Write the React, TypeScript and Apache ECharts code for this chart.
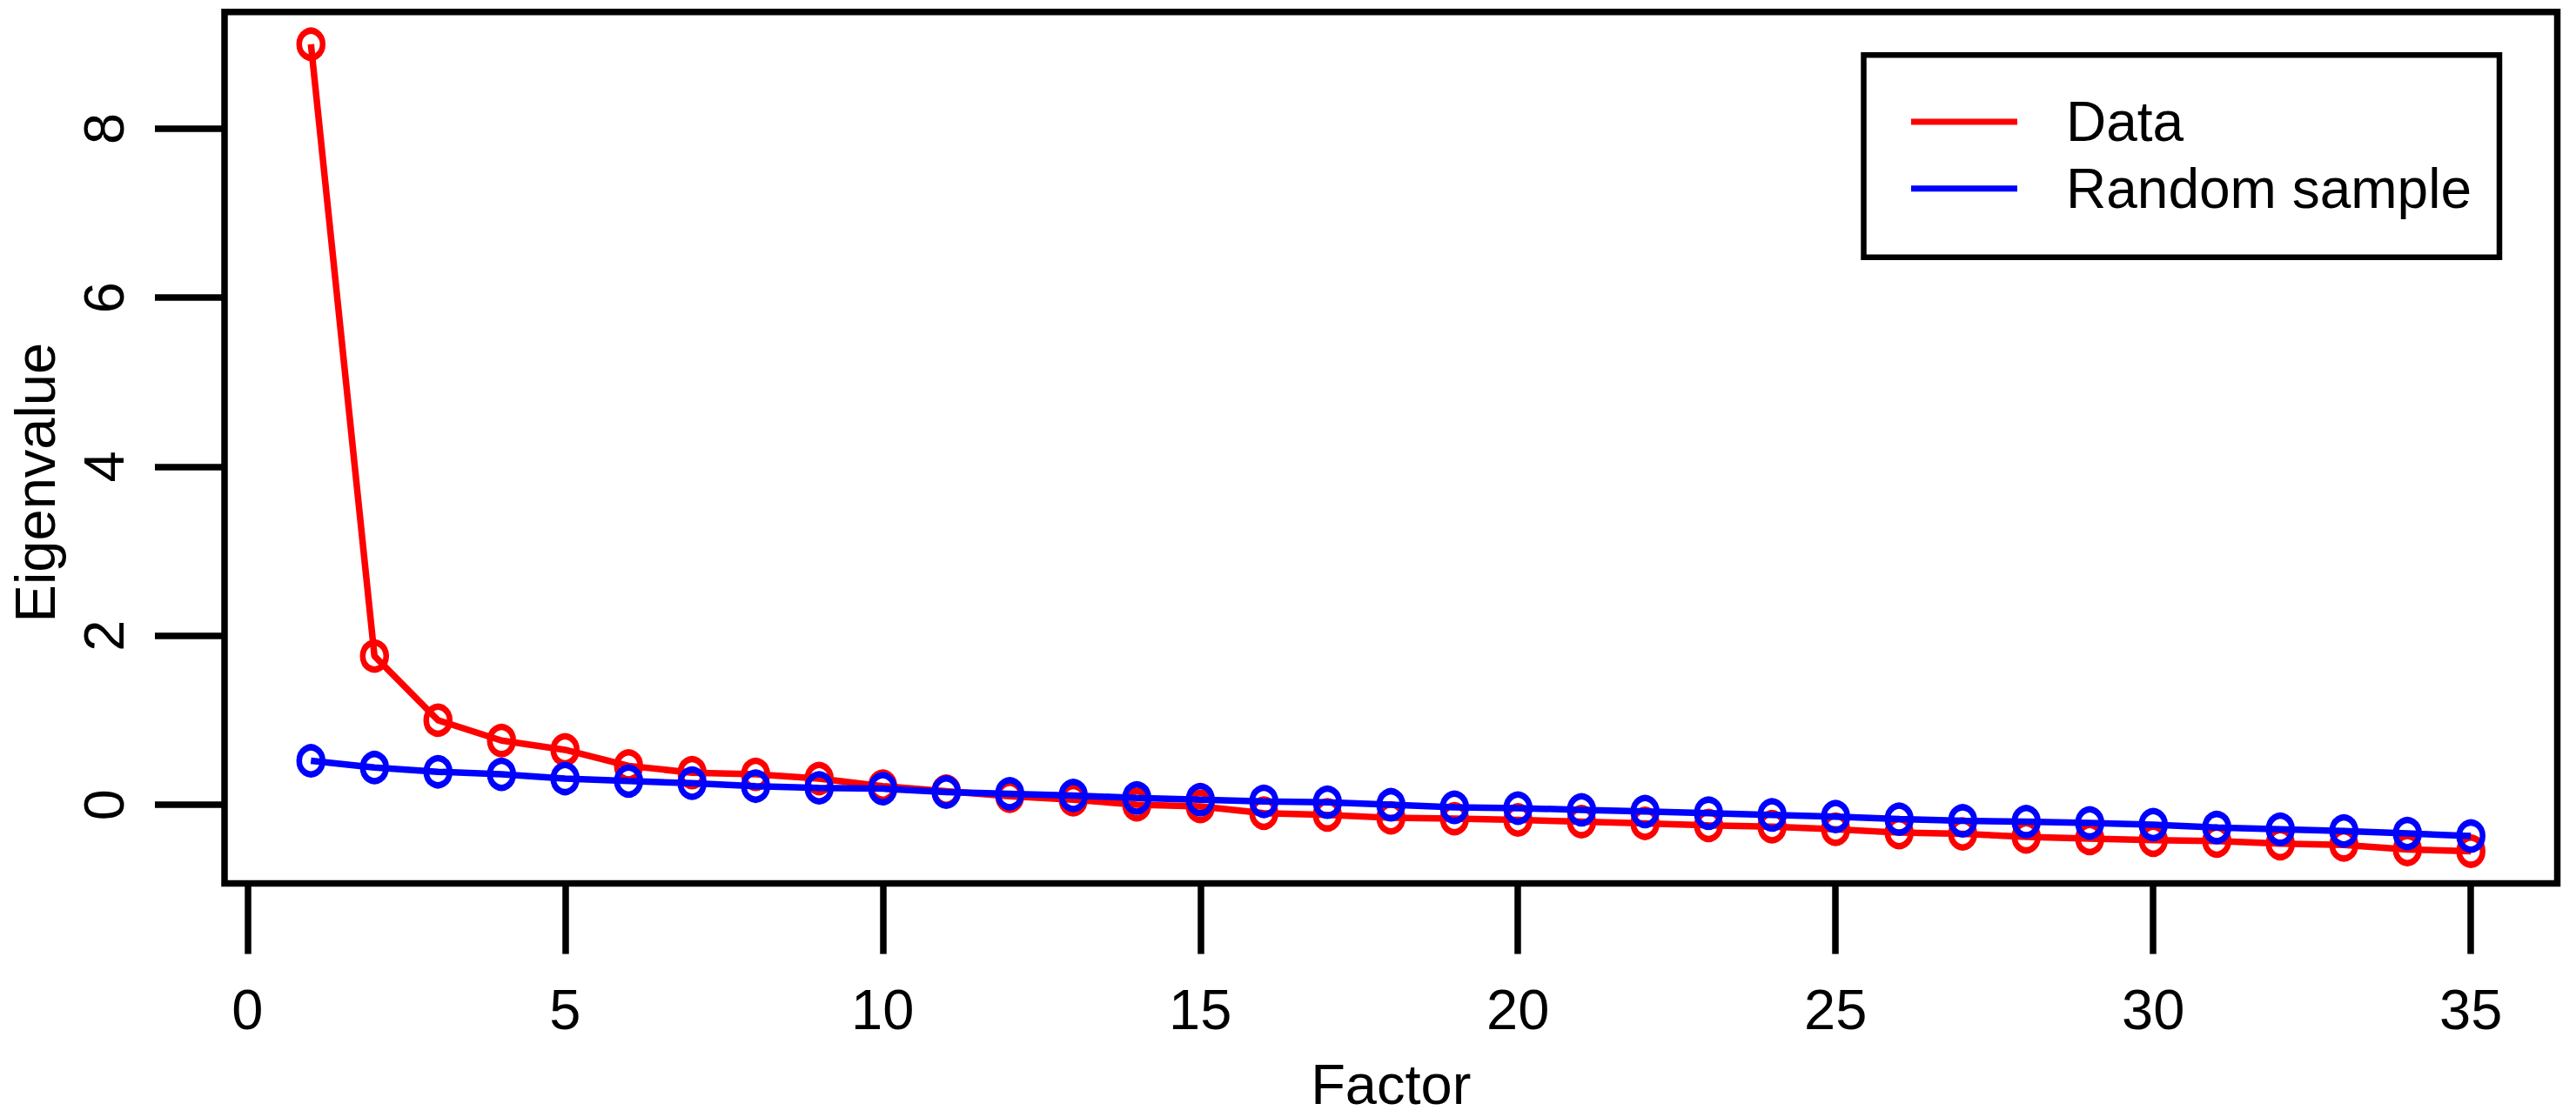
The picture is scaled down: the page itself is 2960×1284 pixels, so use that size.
import React, { useEffect, useRef } from "react";
import * as echarts from "echarts";

const factors = [1, 2, 3, 4, 5, 6, 7, 8, 9, 10, 11, 12, 13, 14, 15, 16, 17, 18, 19, 20, 21, 22, 23, 24, 25, 26, 27, 28, 29, 30, 31, 32, 33, 34, 35];
const dataEigen = [9.0, 1.76, 1.0, 0.76, 0.65, 0.46, 0.38, 0.36, 0.31, 0.22, 0.16, 0.1, 0.06, 0.0, -0.02, -0.1, -0.12, -0.155, -0.165, -0.18, -0.2, -0.22, -0.245, -0.26, -0.29, -0.33, -0.345, -0.38, -0.4, -0.42, -0.43, -0.46, -0.475, -0.53, -0.55];
const randomEigen = [0.52, 0.44, 0.39, 0.36, 0.31, 0.28, 0.255, 0.22, 0.2, 0.19, 0.15, 0.13, 0.11, 0.08, 0.06, 0.04, 0.03, 0.0, -0.03, -0.04, -0.06, -0.08, -0.1, -0.12, -0.14, -0.17, -0.19, -0.2, -0.215, -0.235, -0.27, -0.29, -0.31, -0.34, -0.37];
const xTicks = [0, 5, 10, 15, 20, 25, 30, 35];
const yTicks = [0, 2, 4, 6, 8];
const seriesNames = ["Data", "Random sample"];
const seriesColors = ["#ff0000", "#0000ff"];
const xTitle = "Factor";
const yTitle = "Eigenvalue";

const FONT = "'Liberation Sans', Arial, Helvetica, sans-serif";
const FS = 65;

export default function App() {
  const ref = useRef<HTMLDivElement>(null);
  useEffect(() => {
    document.body.style.margin = "0";
    const chart = echarts.init(ref.current as HTMLDivElement, null, { renderer: "svg" });

    // R-style axis limits: data range extended by 4% on each side
    const xLo = factors[0];
    const xHi = factors[factors.length - 1];
    const xPad = 0.04 * (xHi - xLo);
    const all = dataEigen.concat(randomEigen);
    const yLo = Math.min(...all);
    const yHi = Math.max(...all);
    const yPad = 0.04 * (yHi - yLo);

    const mk = (vals: number[], i: number) => ({
      name: seriesNames[i],
      type: "line",
      data: factors.map((f, k) => [f, vals[k]]),
      symbol: "circle",
      symbolSize: [27, 31],
      showSymbol: true,
      lineStyle: { color: seriesColors[i], width: 7.5 },
      itemStyle: { color: "rgba(0,0,0,0)", borderColor: seriesColors[i], borderWidth: 7 },
      emphasis: { disabled: true },
      z: 2 + i,
    });

    chart.setOption({
      animation: false,
      backgroundColor: "#ffffff",
      textStyle: { fontFamily: FONT, color: "#000" },
      grid: {
        left: 256.4,
        right: 21.5,
        top: 13.7,
        bottom: 268.4,
        show: true,
        borderColor: "#000",
        borderWidth: 7.5,
        backgroundColor: "transparent",
      },
      legend: {
        left: 2141.5,
        top: 63.3,
        orient: "vertical",
        padding: [41.7, 32, 44, 54.5],
        borderColor: "#000",
        borderWidth: 6.5,
        itemGap: 6.7,
        itemWidth: 122,
        itemHeight: 7,
        icon: "rect",
        itemStyle: { borderWidth: 0 },
        textStyle: { fontSize: 64, color: "#000", fontFamily: FONT, lineHeight: 70, padding: [0, 0, 0, 51] },
        data: seriesNames.map((n, i) => ({ name: n, itemStyle: { color: seriesColors[i], borderWidth: 0 } })),
      },
      xAxis: {
        type: "value",
        min: xLo - xPad,
        max: xHi + xPad,
        axisLine: { show: false, onZero: false },
        splitLine: { show: false },
        axisTick: { show: true, inside: false, customValues: xTicks, length: 81, lineStyle: { color: "#000", width: 7.5 } },
        axisLabel: { customValues: xTicks, margin: 112, fontSize: FS, color: "#000", fontFamily: FONT },
        name: xTitle,
        nameLocation: "middle",
        nameGap: 198,
        nameTextStyle: { fontSize: FS, color: "#000", fontFamily: FONT },
      },
      yAxis: {
        type: "value",
        min: yLo - yPad,
        max: yHi + yPad,
        axisLine: { show: false, onZero: false },
        splitLine: { show: false },
        axisTick: { show: true, inside: false, customValues: yTicks, length: 80, lineStyle: { color: "#000", width: 7.5 } },
        axisLabel: { customValues: yTicks, rotate: 90, margin: 106, fontSize: FS, color: "#000", fontFamily: FONT },
        name: yTitle,
        nameLocation: "middle",
        nameGap: 185,
        nameTextStyle: { fontSize: FS, color: "#000", fontFamily: FONT, padding: [0, 80, 0, 0] },
      },
      series: [mk(dataEigen, 0), mk(randomEigen, 1)],
    });
    return () => chart.dispose();
  }, []);
  return <div ref={ref} style={{ width: 2960, height: 1284 }} />;
}
